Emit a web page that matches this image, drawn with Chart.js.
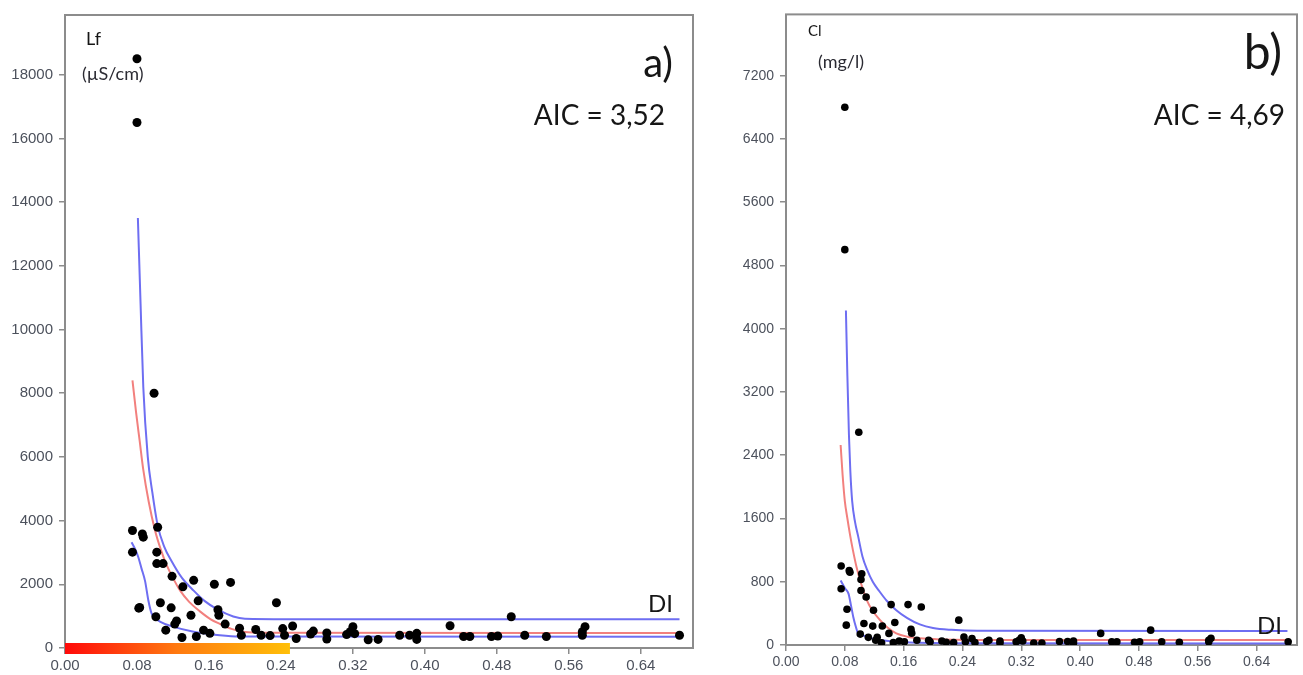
<!DOCTYPE html>
<html><head><meta charset="utf-8">
<script src="https://cdn.jsdelivr.net/npm/chart.js@4.4.0/dist/chart.umd.min.js"></script>
<style>
html,body{margin:0;padding:0;background:#fff;}
body{width:1303px;height:675px;position:relative;overflow:hidden;font-family:Lato,"Open Sans",sans-serif;}
canvas{position:absolute;top:0;}
.t{position:absolute;white-space:nowrap;line-height:1;color:#161616;}
</style></head><body>
<canvas id="c1" width="720" height="675" style="left:0;width:720px;height:675px"></canvas>
<canvas id="c2" width="583" height="675" style="left:720px;width:583px;height:675px"></canvas>

<div class="t" style="left:86px;top:29px;font-size:18px;">Lf</div>
<div class="t" style="left:82px;top:64px;font-size:18px;color:#2b2b33;">(µS/cm)</div>
<div class="t" style="right:630px;top:42px;font-size:40px;">a)</div>
<div class="t" style="right:638px;top:100px;font-size:28px;">AIC = 3,52</div>
<div class="t" style="left:648px;top:591px;font-size:24px;">DI</div>

<div class="t" style="left:808px;top:23px;font-size:15px;">Cl</div>
<div class="t" style="left:818px;top:52px;font-size:18px;color:#2b2b33;">(mg/l)</div>
<div class="t" style="right:21px;top:27px;font-size:48px;">b)</div>
<div class="t" style="right:18px;top:100px;font-size:28px;">AIC = 4,69</div>
<div class="t" style="left:1257px;top:613px;font-size:24px;">DI</div>

<script>
// ---- sample data (DI = drought index, shared by both panels) ----
const di = [0.080,0.080,0.099,0.075,0.086,0.087,0.103,0.075,0.102,0.102,0.109,0.119,0.131,0.143,0.166,0.184,0.083,0.106,0.118,0.148,0.170,0.171,0.101,0.140,0.124,0.122,0.178,0.112,0.154,0.161,0.130,0.146,0.194,0.196,0.212,0.218,0.228,0.235,0.242,0.244,0.253,0.257,0.273,0.276,0.291,0.291,0.313,0.320,0.322,0.317,0.337,0.348,0.372,0.383,0.391,0.391,0.428,0.443,0.450,0.474,0.481,0.496,0.511,0.535,0.575,0.578,0.575,0.683,0.082];
const lf = [18500,16500,8000,3690,3580,3480,3790,3010,3010,2650,2650,2250,1920,2125,2000,2060,1270,1420,1260,1480,1200,1030,980,1030,850,750,750,560,560,460,330,360,620,400,580,400,390,1420,610,400,690,300,440,530,470,280,420,670,450,510,260,270,400,400,460,270,700,360,360,360,375,980,400,360,510,670,400,400,1250];
const cl = [6800,5000,2690,1000,940,920,900,712,829,690,607,440,240,511,511,481,452,272,239,285,197,150,138,147,97,60,60,97,50,40,29,30,60,40,50,35,30,314,100,40,80,30,45,60,50,25,40,90,50,60,25,25,45,45,50,25,147,40,40,35,40,188,40,35,60,84,40,40,251];

// ---- fitted curve (red) and confidence bands (blue) ----
const lfFitX   = [0.075,0.079,0.083,0.087,0.093,0.100,0.107,0.113,0.120,0.128,0.138,0.150,0.162,0.172,0.185,0.200,0.220,0.683];
const lfFitY   = [8400,7400,6500,5600,4600,3700,3050,2600,2200,1800,1450,1150,900,760,600,500,475,470];
const lfUpX    = [0.081,0.084,0.087,0.092,0.097,0.103,0.110,0.119,0.130,0.143,0.155,0.169,0.187,0.200,0.250,0.683];
const lfUpY    = [13500,10800,8200,6000,4900,3850,3200,2700,2200,1800,1480,1220,990,920,905,900];
const lfLoX    = [0.074,0.078,0.0815,0.085,0.089,0.0926,0.0963,0.100,0.106,0.120,0.143,0.172,0.194,0.683];
const lfLoY    = [3320,3100,2850,2500,2100,1500,1080,950,820,670,510,400,360,350];

const clFitX   = [0.0743,0.077,0.080,0.0835,0.087,0.091,0.096,0.102,0.110,0.118,0.128,0.138,0.150,0.165,0.182,0.210,0.250,0.682];
const clFitY   = [2530,2150,1820,1600,1400,1200,983,780,565,430,314,220,147,105,84,70,64,63];
const clUpX    = [0.0815,0.0835,0.0856,0.0875,0.090,0.094,0.098,0.104,0.110,0.118,0.127,0.137,0.150,0.165,0.182,0.200,0.225,0.260,0.682];
const clUpY    = [4230,3400,2660,2200,1820,1550,1380,1120,960,800,680,560,440,340,260,215,192,180,176];
const clLoX    = [0.0743,0.080,0.085,0.088,0.0915,0.095,0.098,0.105,0.114,0.130,0.150,0.180,0.220,0.682];
const clLoY    = [816,720,650,520,355,230,147,120,90,60,40,28,22,20];

// ---- axes: ranges and tick labels ----
const lfTickValues = [0,2000,4000,6000,8000,10000,12000,14000,16000,18000];
const clTickValues = [0,800,1600,2400,3200,4000,4800,5600,6400,7200];
const diTickValues = [0,0.08,0.16,0.24,0.32,0.40,0.48,0.56,0.64];
const lfRange = [0, 19875];
const clRange = [0, 7975];
const diRangeA = [0, 0.698];
const diRangeB = [0, 0.695];
const diColourBand = [0, 0.25];

const pts = (xs, ys) => xs.map((x,i)=>({x:x, y:ys[i]}));

const BLUE = '#6e6ef2', RED = '#f2807e', FRAME = '#8c8c8c', LABEL = '#4c515c';

function frameAndBand(opts){
  return {
    id:'frame',
    beforeDatasetsDraw(chart){
      const a = chart.chartArea, c = chart.ctx;
      c.save(); c.strokeStyle = FRAME; c.lineWidth = 2;
      c.strokeRect(a.left, a.top, a.right-a.left, a.bottom-a.top);
      c.restore();
    },
    afterDraw(chart){
      if(!opts.band) return;
      const a = chart.chartArea, c = chart.ctx, xs = chart.scales.x;
      const x0 = xs.getPixelForValue(opts.band[0]), x1 = xs.getPixelForValue(opts.band[1]);
      const g = c.createLinearGradient(x0,0,x1,0);
      g.addColorStop(0,'#ff0a0a'); g.addColorStop(0.5,'#ff7a10'); g.addColorStop(1,'#ffbf08');
      c.save(); c.fillStyle = g; c.fillRect(x0, a.bottom-5, x1-x0, 11); c.restore();
    }
  };
}

function makeChart(id, vals, fx, fy, ux, uy, lx, ly, yRange, yTicks, xRange, cfg){
  const tickFont = {family:'"Liberation Sans", Arial, sans-serif', size:cfg.fs};
  return new Chart(document.getElementById(id), {
    type:'scatter',
    data:{datasets:[
      {data:pts(di, vals), backgroundColor:'#000', borderWidth:0, pointRadius:cfg.r, order:0},
      {data:pts(fx,fy), showLine:true, borderColor:RED, borderWidth:2, pointRadius:0, cubicInterpolationMode:'monotone', order:2},
      {data:pts(ux,uy), showLine:true, borderColor:BLUE, borderWidth:2, pointRadius:0, cubicInterpolationMode:'monotone', order:1},
      {data:pts(lx,ly), showLine:true, borderColor:BLUE, borderWidth:2, pointRadius:0, cubicInterpolationMode:'monotone', order:1}
    ]},
    options:{
      responsive:false, animation:false, events:[],
      layout:{padding:{top:cfg.top, right:cfg.right, left:0, bottom:0}},
      plugins:{legend:{display:false}, tooltip:{enabled:false}},
      scales:{
        x:{type:'linear', min:xRange[0], max:xRange[1],
           afterBuildTicks(s){ s.ticks = diTickValues.map(v=>({value:v})); },
           afterFit(s){ s.height = cfg.xh; },
           border:{display:false},
           grid:{drawOnChartArea:false, drawTicks:true, tickLength:6, color:FRAME, lineWidth:1.5},
           ticks:{autoSkip:false, maxRotation:0, padding:3, color:LABEL, font:tickFont,
                  callback:v=>Number(v).toFixed(2)}},
        y:{type:'linear', min:yRange[0], max:yRange[1],
           afterBuildTicks(s){ s.ticks = yTicks.map(v=>({value:v})); },
           afterFit(s){ s.width = cfg.yw; },
           border:{display:false},
           grid:{drawOnChartArea:false, drawTicks:true, tickLength:6, color:FRAME, lineWidth:1.5},
           ticks:{autoSkip:false, padding:6, color:LABEL, font:tickFont,
                  callback:v=>String(Math.round(v))}}
      }
    },
    plugins:[frameAndBand({band:cfg.band})]
  });
}

makeChart('c1', lf, lfFitX, lfFitY, lfUpX, lfUpY, lfLoX, lfLoY, lfRange, lfTickValues, diRangeA,
  {top:12, right:27, xh:27, yw:65, fs:15, r:4.5, band:diColourBand});
makeChart('c2', cl, clFitX, clFitY, clUpX, clUpY, clLoX, clLoY, clRange, clTickValues, diRangeB,
  {top:10, right:6, xh:30, yw:66, fs:14, r:3.8, band:null});
</script>
</body></html>
